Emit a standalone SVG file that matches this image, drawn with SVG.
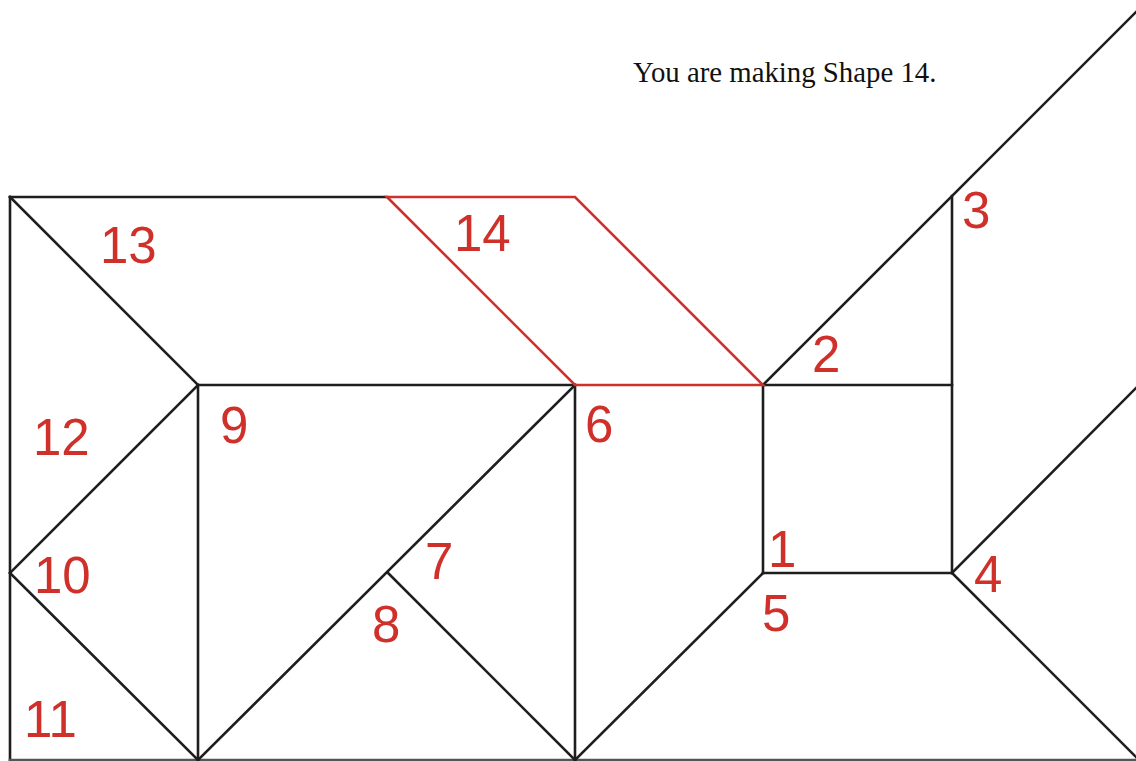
<svg xmlns="http://www.w3.org/2000/svg" width="1136" height="761" viewBox="0 0 1136 761">
<style>
.ln{stroke:#1e1e1e;stroke-width:2.6;fill:none;stroke-linecap:square}
.rd{stroke:#d0302a;stroke-width:2.6;fill:none;stroke-linejoin:miter}
.lb{font-family:"Liberation Sans",Arial,sans-serif;font-size:51px;fill:#d0302a}
.tt{font-family:"Liberation Serif","Times New Roman",serif;font-size:28.8px;fill:#111}
</style>
<rect width="1136" height="761" fill="#fff"/>
<g id="connectors">
<line class="ln" x1="10" y1="197" x2="387" y2="197"/>
<line class="ln" x1="10" y1="197" x2="10" y2="760"/>
<line class="ln" x1="10" y1="760" x2="1136" y2="760" style="stroke:#555"/>
<line class="ln" x1="10" y1="197" x2="198" y2="385"/>
<line class="ln" x1="198" y1="385" x2="575" y2="385"/>
<line class="ln" x1="763" y1="385" x2="952" y2="385"/>
<line class="ln" x1="198" y1="385" x2="10" y2="573"/>
<line class="ln" x1="10" y1="573" x2="198" y2="760"/>
<line class="ln" x1="198" y1="385" x2="198" y2="760"/>
<line class="ln" x1="575" y1="385" x2="198" y2="760"/>
<line class="ln" x1="388" y1="573" x2="575" y2="760"/>
<line class="ln" x1="575" y1="385" x2="575" y2="760"/>
<line class="ln" x1="763" y1="573" x2="575" y2="760"/>
<line class="ln" x1="763" y1="385" x2="763" y2="573"/>
<line class="ln" x1="763" y1="573" x2="952" y2="573"/>
<line class="ln" x1="952" y1="196" x2="952" y2="573"/>
<line class="ln" x1="763" y1="385" x2="1136" y2="12"/>
<line class="ln" x1="952" y1="573" x2="1136" y2="388"/>
<line class="ln" x1="952" y1="573" x2="1136" y2="757"/>
</g>
<g id="shape14">
<polygon class="rd" points="387,197 575,197 763,385 575,385"/>
</g>
<g id="labels">
<text class="lb" x="100" y="263">13</text>
<text class="lb" x="454" y="251">14</text>
<text class="lb" x="33" y="455">12</text>
<text class="lb" x="220" y="443">9</text>
<text class="lb" x="585" y="442">6</text>
<text class="lb" x="812" y="372">2</text>
<text class="lb" x="962" y="228">3</text>
<text class="lb" x="34" y="593">10</text>
<text class="lb" x="24" y="737">11</text>
<text class="lb" x="425" y="579">7</text>
<text class="lb" x="372" y="642">8</text>
<text class="lb" x="768" y="567">1</text>
<text class="lb" x="762" y="631">5</text>
<text class="lb" x="974" y="592">4</text>
</g>
<text class="tt" x="633" y="82">You are making Shape 14.</text>
</svg>
